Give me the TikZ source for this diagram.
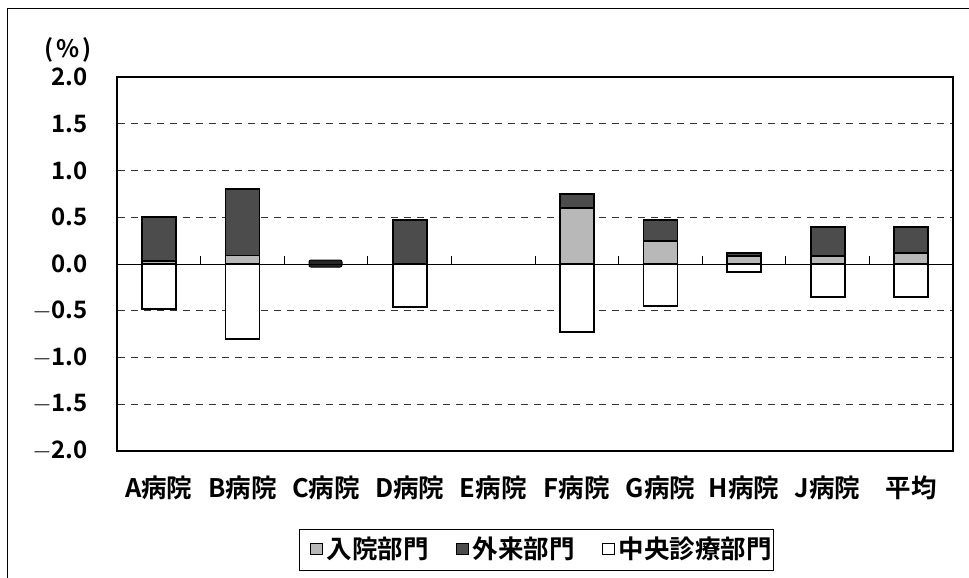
\documentclass[tikz,border=0pt]{standalone}
\usepackage{fontspec}
\setmainfont{Noto Sans CJK JP}[BoldFont={Noto Sans CJK JP Bold}]
\usetikzlibrary{positioning}
\begin{document}
\begin{tikzpicture}[x=1pt,y=-1pt,
  lbl/.style={font=\fontsize{24}{26}\selectfont\bfseries, inner sep=0pt},
  biglbl/.style={font=\fontsize{25.5}{27}\selectfont\bfseries, inner sep=0pt},
  grid/.style={line width=0.9pt, dash pattern=on 7pt off 6pt, black!80},
  barline/.style={line width=1.8pt, black},
  inp/.style={fill=black!28},
  outp/.style={fill=black!70},
  cenp/.style={fill=white},
  legsq/.style={draw, line width=1pt, minimum size=11.5pt, inner sep=0pt}]
\useasboundingbox (0,0) rectangle (969,578);
% outer frame (top and left only visible)
\draw[line width=1pt] (7,578) -- (7,9) -- (969,9);
% gridlines
\foreach \v in {1.5,1.0,0.5,-0.5,-1.0,-1.5}
  \draw[grid] (118,{264-93.5*\v}) -- (952,{264-93.5*\v});
% y labels
\foreach \v/\t in {2.0/2.0,1.5/1.5,1.0/1.0,0.5/0.5,0.0/0.0,-0.5/$-$0.5,-1.0/$-$1.0,-1.5/$-$1.5,-2.0/$-$2.0}
  \node[lbl, anchor=east] (y\v) at (88,{264-93.5*\v}) {\t};
\node[lbl] (unit) at (68,50) {(\kern3pt\%\kern3pt)};
% bars: index / inpatient / outpatient / central
\foreach \i/\a/\b/\c in {0/0.03/0.47/0.48, 1/0.09/0.71/0.80, 3/0.0/0.47/0.46, 5/0.60/0.15/0.73, 6/0.25/0.22/0.45, 7/0.085/0.03/0.085, 8/0.085/0.315/0.35, 9/0.12/0.28/0.35}{
  \pgfmathsetmacro\cx{117+83.6*(\i+0.5)}
  \draw[barline, cenp] ({\cx-17},264) rectangle ({\cx+17},{264+93.5*\c});
  \ifdim\a pt>0pt
    \draw[barline, inp] ({\cx-17},264) rectangle ({\cx+17},{264-93.5*\a});
  \fi
  \draw[barline, outp] ({\cx-17},{264-93.5*\a}) rectangle ({\cx+17},{264-93.5*(\a+\b)});
}
% C hospital small bar
\draw[line width=1pt, fill=black!85, rounded corners=2pt] (309,260) rectangle (342,267);
% zero line and ticks
\draw[line width=1pt] (117,264) -- (953,264);
\foreach \k in {1,...,9}
  \draw[line width=1pt] ({117+83.6*\k},264) -- ({117+83.6*\k},256);
% plot frame
\draw[line width=1.8pt] (117,77) rectangle (953,451);
% category labels
\foreach \i/\t in {0/A病院,1/B病院,2/C病院,3/D病院,4/E病院,5/F病院,6/G病院,7/H病院,8/J病院,9/平均}
  \node[biglbl] (cat\i) at ({117+83.6*(\i+0.5)},488) {\t};
% legend
\draw[line width=1pt] (299,529) rectangle (773,570);
\node[legsq, inp] (sq1) at (316.5,549) {};
\node[biglbl, anchor=west] (leg1) at ([xshift=4pt]sq1.east) {入院部門};
\node[legsq, outp, anchor=west] (sq2) at ([xshift=27pt]leg1.east) {};
\node[biglbl, anchor=west] (leg2) at ([xshift=4pt]sq2.east) {外来部門};
\node[legsq, cenp, anchor=west] (sq3) at ([xshift=27pt]leg2.east) {};
\node[biglbl, anchor=west] (leg3) at ([xshift=4pt]sq3.east) {中央診療部門};
\end{tikzpicture}
\end{document}
